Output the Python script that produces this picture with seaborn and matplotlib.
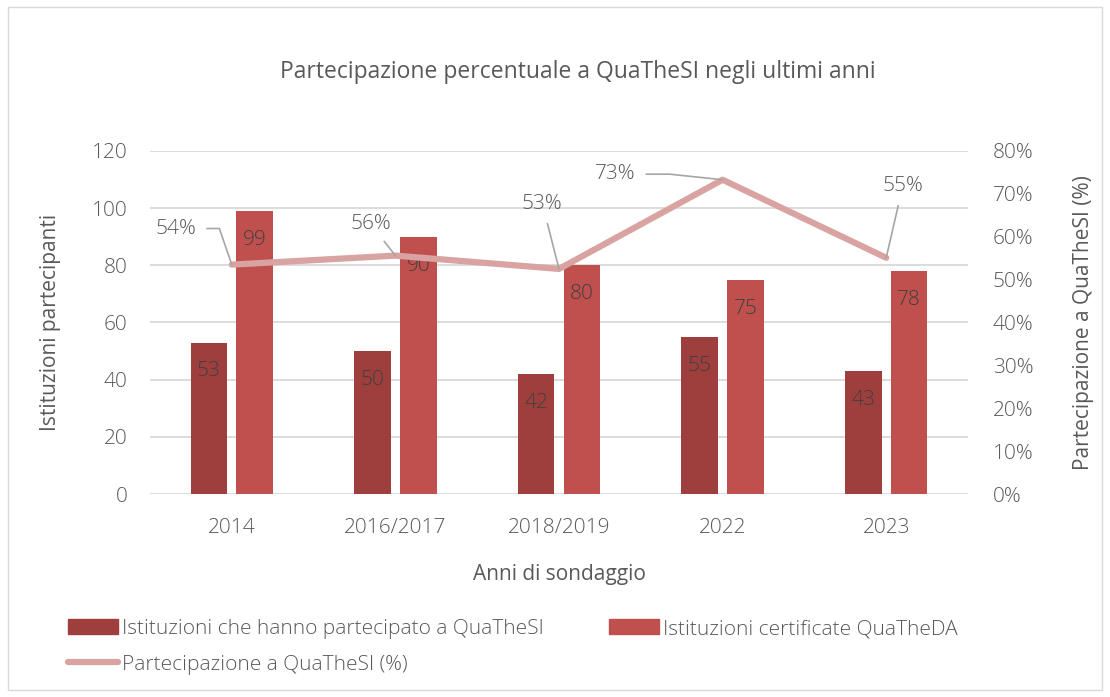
import numpy as np
import pandas as pd
import matplotlib
matplotlib.use("Agg")
import matplotlib.pyplot as plt
import seaborn as sns
from matplotlib.patches import Patch, Rectangle
from matplotlib.lines import Line2D

# ---- data ----
years = ["2014", "2016/2017", "2018/2019", "2022", "2023"]
participated = [53, 50, 42, 55, 43]
certified = [99, 90, 80, 75, 78]
pct = [53.5, 55.6, 52.5, 73.3, 55.1]
pct_labels = ["54%", "56%", "53%", "73%", "55%"]
series_names = ["Istituzioni che hanno partecipato a QuaTheSI", "Istituzioni certificate QuaTheDA"]
line_name = "Partecipazione a QuaTheSI (%)"
title = "Partecipazione percentuale a QuaTheSI negli ultimi anni"
xlabel = "Anni di sondaggio"
ylabel_left = "Istituzioni partecipanti"
ylabel_right = "Partecipazione a QuaTheSI (%)"

# label offsets (points) and leader styles for the percentage annotations
pct_offsets = [(-40, 26), (-18, 23), (-12, 47), (-77, 4), (12, 52)]
pct_leaders = ["angle,angleA=0,angleB=-71,rad=0", "arc3,rad=0", "arc3,rad=0",
               "angle,angleA=0,angleB=-6,rad=0", "arc3,rad=0"]
pct_shrink = [5, 4, 5, 5, 5]

dark = "#9E3F3D"
light = "#C0504D"
linec = "#D9A3A2"
txt = "#595959"
grid = "#D9D9D9"
FS = 15

sns.set_theme(style="white")
plt.rcParams["font.family"] = ["Open Sans", "DejaVu Sans"]
plt.rcParams["font.weight"] = "light"
plt.rcParams["text.color"] = txt
plt.rcParams["axes.labelcolor"] = txt
plt.rcParams["xtick.color"] = txt
plt.rcParams["ytick.color"] = txt

df = pd.DataFrame({
    "year": years * 2,
    "value": participated + certified,
    "series": [series_names[0]] * len(years) + [series_names[1]] * len(years),
})

fig = plt.figure(figsize=(11.10, 6.97), dpi=100)
ax = fig.add_axes([150 / 1110, 1 - 494 / 697, (968 - 150) / 1110, (494 - 151) / 697])

sns.barplot(data=df, x="year", y="value", hue="series", order=years,
            hue_order=series_names, palette=[dark, light], width=0.56, gap=0.2,
            saturation=1, ax=ax, legend=False, edgecolor="none")

ax.set_xlim(-0.5, len(years) - 0.5)
ax.set_ylim(0, 120)
ax.set_yticks(np.arange(0, 121, 20))
ax.yaxis.grid(True, color=grid, linewidth=1.3)
ax.set_axisbelow(True)
for s in ax.spines.values():
    s.set_visible(False)
ax.tick_params(axis="y", length=0, labelsize=FS, pad=16)
ax.tick_params(axis="x", length=0, labelsize=FS, pad=17)
ax.set_xlabel(xlabel, fontsize=FS, labelpad=19)
ax.set_ylabel(ylabel_left, fontsize=FS, labelpad=22)

# bar value labels (inside end)
for cont in ax.containers:
    ax.bar_label(cont, label_type="edge", padding=-28, fontsize=FS, color="#404040")

ax2 = ax.twinx()
sns.lineplot(x=np.arange(len(years)), y=pct, ax=ax2, color=linec, linewidth=4.5,
             solid_capstyle="round")
ax2.set_ylim(0, 80)
ax2.set_yticks(np.arange(0, 81, 10))
ax2.set_yticklabels([f"{v}%" for v in range(0, 81, 10)])
for s in ax2.spines.values():
    s.set_visible(False)
ax2.tick_params(axis="y", length=0, labelsize=FS, pad=18)
ax2.set_ylabel(ylabel_right, fontsize=FS, labelpad=28)
ax2.set_xlim(-0.5, len(years) - 0.5)

for i, (v, lab, off, cs, sh) in enumerate(zip(pct, pct_labels, pct_offsets,
                                              pct_leaders, pct_shrink)):
    ax2.annotate(lab, xy=(i, v), xytext=off, textcoords="offset points",
                 ha="center", va="center", fontsize=FS, color=txt,
                 arrowprops=dict(arrowstyle="-", color="#A6A6A6", lw=1.2,
                                 connectionstyle=cs, shrinkA=sh, shrinkB=0))

fig.suptitle(title, x=578 / 1110, y=1 - 72 / 697, va="center", fontsize=16.5, color=txt)

handles = [Patch(color=dark, label=series_names[0]),
           Line2D([0], [0], color=linec, lw=4.5, label=line_name),
           Patch(color=light, label=series_names[1])]
fig.legend(handles=handles, ncol=2, loc="upper left",
           bbox_to_anchor=(68 / 1110, 1 - 619 / 697), frameon=False,
           fontsize=FS, handlelength=2.4, handleheight=0.7, handletextpad=0.2,
           columnspacing=3.1, labelspacing=0.75, borderpad=0, borderaxespad=0)

fig.patches.append(Rectangle((8 / 1110, 7 / 697), 1094 / 1110, 683 / 697,
                             transform=fig.transFigure, fill=False,
                             edgecolor="#D9D9D9", linewidth=1))

fig.savefig("out.png", dpi=100)
